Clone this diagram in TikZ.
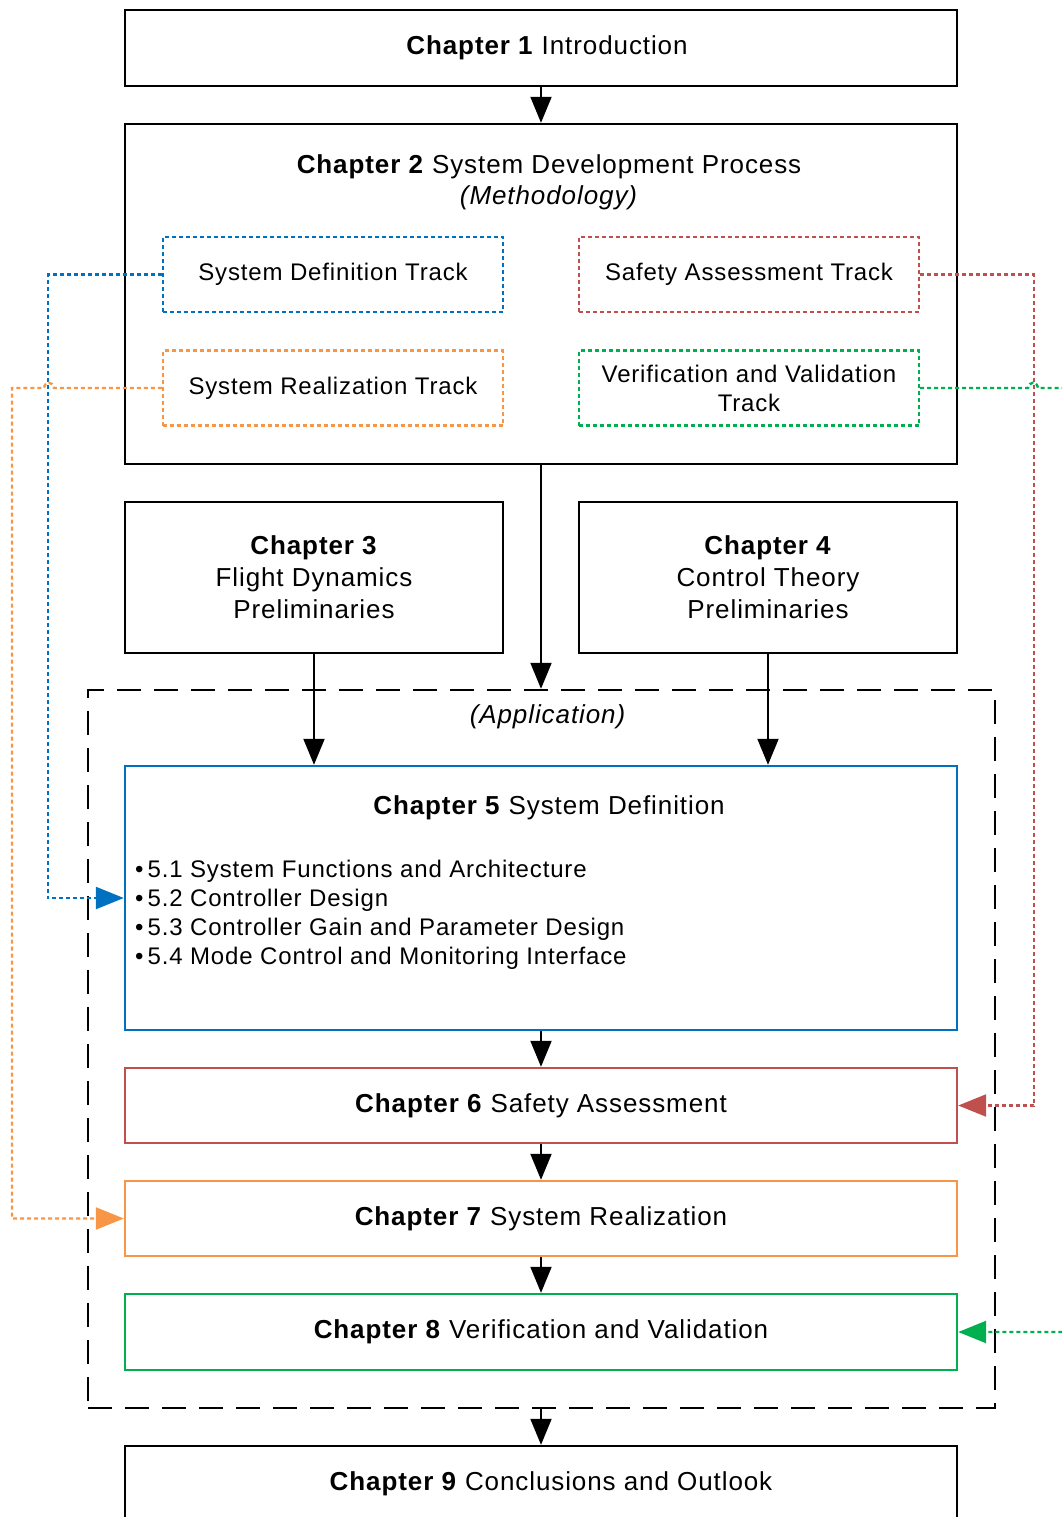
\documentclass[tikz,border=0pt]{standalone}
\usepackage{fontspec}
\setmainfont[LetterSpace=3.5]{Liberation Sans}
\usetikzlibrary{arrows.meta}
\definecolor{tblue}{HTML}{0070C0}
\definecolor{tred}{HTML}{C0504D}
\definecolor{torange}{HTML}{F79646}
\definecolor{tgreen}{HTML}{00B050}
\begin{document}
\begin{tikzpicture}[x=1pt,y=-1pt,
  chbox/.style={draw, line width=2.4pt, minimum width=832pt, inner sep=0pt},
  trackbox/.style={draw, line width=2.4pt, dash pattern=on 4pt off 3pt, minimum width=340pt, minimum height=75pt, inner sep=0pt, align=center, font=\fontsize{24}{29}\selectfont},
  lbl/.style={align=center, font=\fontsize{26}{32}\selectfont},
  arr/.style={line width=2pt, -{Triangle[length=26pt,width=21pt]}},
  link/.style={line width=2.4pt, dash pattern=on 4pt off 3pt, -{Triangle[length=28pt,width=22pt]}},
]
\useasboundingbox (0,0) rectangle (1062,1517);
\clip (0,0) rectangle (1062,1517);

% top chapters
\node[chbox, minimum height=76pt] (c1) at (541,48) {};
\node[lbl] (c1t) at (547,48) {\textbf{Chapter 1} Introduction};

\node[chbox, minimum height=340pt] (c2) at (541,294) {};
\node[lbl, font=\fontsize{26}{31}\selectfont] (c2t) at (549,182) {\textbf{Chapter 2} System Development Process\\\textit{(Methodology)}};

% the four development tracks
\node[trackbox, draw=tblue] (tb) at (333,274.5) {System Definition Track};
\node[trackbox, draw=tred] (tr) at (749,274.5) {Safety Assessment Track};
\node[trackbox, draw=torange] (to) at (333,388) {System Realization Track};
\node[trackbox, draw=tgreen] (tg) at (749,388) {Verification and Validation\\Track};

% preliminaries
\node[chbox, minimum width=378pt, minimum height=151pt, lbl] (c3) at (314,577.5) {\textbf{Chapter 3}\\Flight Dynamics\\Preliminaries};
\node[chbox, minimum width=378pt, minimum height=151pt, lbl] (c4) at (768,577.5) {\textbf{Chapter 4}\\Control Theory\\Preliminaries};

% application frame
\node[draw, line width=2.4pt, dash pattern=on 24pt off 13pt, minimum width=907pt, minimum height=718pt, inner sep=0pt] (app) at (541.5,1049) {};
\node[lbl] (appt) at (548,717) {\textit{(Application)}};

% application chapters
\node[chbox, draw=tblue, minimum height=264pt] (c5) at (541,898) {};
\node[lbl] (c5t) at (549,808) {\textbf{Chapter 5} System Definition};
\node[anchor=west, align=left, font=\fontsize{24}{29}\selectfont, inner sep=0pt] (c5l) at (135,914.5)
  {\textbullet\,5.1 System Functions and Architecture\\
   \textbullet\,5.2 Controller Design\\
   \textbullet\,5.3 Controller Gain and Parameter Design\\
   \textbullet\,5.4 Mode Control and Monitoring Interface};

\node[chbox, draw=tred, minimum height=75pt, lbl] (c6) at (541,1105.5) {\textbf{Chapter 6} Safety Assessment};
\node[chbox, draw=torange, minimum height=75pt, lbl] (c7) at (541,1218.5) {\textbf{Chapter 7} System Realization};
\node[chbox, draw=tgreen, minimum height=76pt, lbl] (c8) at (541,1332) {\textbf{Chapter 8} Verification and Validation};

\node[chbox, minimum height=76pt] (c9) at (541,1484) {};
\node[lbl] (c9t) at (551,1484) {\textbf{Chapter 9} Conclusions and Outlook};

% main flow
\draw[arr] (c1.south) -- (c2.north);
\draw[arr] (c2.south) -- (c2.south |- app.north);
\draw[arr] (c3.south) -- (c3.south |- c5.north);
\draw[arr] (c4.south) -- (c4.south |- c5.north);
\draw[arr] (c5.south) -- (c6.north);
\draw[arr] (c6.south) -- (c7.north);
\draw[arr] (c7.south) -- (c8.north);
\draw[arr] (c2.south |- app.south) -- (c9.north);

% track links
\draw[link, tblue] (tb.west) -- ++(-114,0) |- (c5.west);
\draw[link, tred] (tr.east) -- ++(114,0) |- (c6.east);
\draw[link, torange] (to.west) -- (54,388) .. controls (53,381) and (45,381) .. (44,388) -- (12,388) |- (c7.west);
\draw[link, tgreen] (tg.east) -- (1028,388) .. controls (1029,381) and (1037,381) .. (1038,388) -- (1080,388) -- (1080,1332) -- (c8.east);
\end{tikzpicture}
\end{document}
